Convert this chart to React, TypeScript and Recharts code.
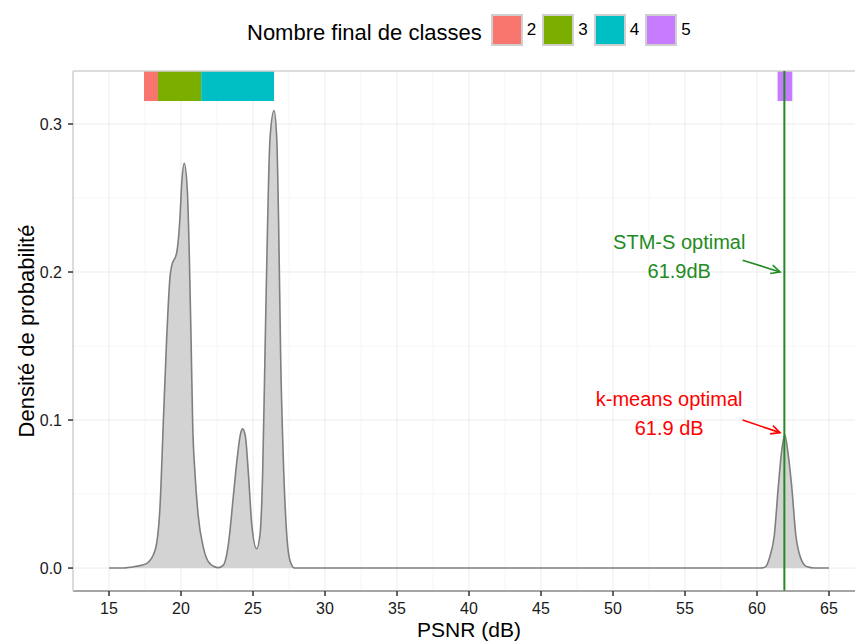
import React from 'react';
import {
  ComposedChart,
  Area,
  XAxis,
  YAxis,
  CartesianGrid,
  ReferenceArea,
  ReferenceLine,
  ReferenceDot,
  Label
} from 'recharts';

const FONT = '"Liberation Sans", Arial, Helvetica, sans-serif';

// PSNR (dB) -> estimated density
const psnr = [
  15, 16, 16.8, 17.6, 18.2, 18.54, 18.77, 19.0, 19.24, 19.35, 19.7, 19.93, 20.05, 20.23,
  20.44, 20.58, 20.7, 20.81, 20.97, 21.2, 21.55, 22.01, 22.6, 22.94, 23.29, 23.63, 23.91,
  24.14, 24.28, 24.47, 24.68, 24.91, 25.25, 25.49, 25.67, 25.83, 25.99, 26.18, 26.46,
  26.65, 26.78, 26.92, 27.1, 27.34, 27.57, 27.9, 28.5, 35, 45, 55, 60.3, 60.6, 60.9,
  61.2, 61.48, 61.7, 61.93, 62.15, 62.41, 62.7, 62.99, 63.45, 64, 65
];
const density = [
  0, 0, 0.001, 0.003, 0.012, 0.041, 0.098, 0.154, 0.197, 0.204, 0.213, 0.237, 0.26, 0.2734,
  0.255, 0.21, 0.154, 0.098, 0.064, 0.035, 0.014, 0.003, 0.0003, 0.002, 0.016, 0.048, 0.075,
  0.091, 0.094, 0.089, 0.064, 0.03, 0.013, 0.023, 0.064, 0.143, 0.222, 0.29, 0.309,
  0.29, 0.233, 0.143, 0.075, 0.023, 0.005, 0, 0, 0, 0, 0, 0, 0.001, 0.008,
  0.022, 0.055, 0.078, 0.09, 0.078, 0.055, 0.022, 0.008, 0.001, 0, 0
];

const xTicks = [15, 20, 25, 30, 35, 40, 45, 50, 55, 60, 65];
const xMinor = [12.5, 17.5, 22.5, 27.5, 32.5, 37.5, 42.5, 47.5, 52.5, 57.5, 62.5, 67.5];
const yTicks = [0, 0.1, 0.2, 0.3];
const yMinor = [0.05, 0.15, 0.25];

// final number of classes, PSNR span of each
const classLabels = ['2', '3', '4', '5'];
const classColors = ['#F8766D', '#7CAE00', '#00BFC4', '#C77CFF'];
const classFrom = [17.43, 18.4, 21.4, 61.43];
const classTo = [18.4, 21.4, 26.46, 62.45];
const bandBottom = 0.3155;

const optimum = 61.9;
const xDomain = [12.5, 67.5];
const yDomain = [-0.0155, 0.3358];

const notes = [
  { lines: ['STM-S optimal', '61.9dB'], x: 54.6, y: 0.2153, color: '#228B22', from: [59.0, 0.208], to: [61.6, 0.2] },
  { lines: ['k-means optimal', '61.9 dB'], x: 53.9, y: 0.1095, color: '#FF0000', from: [59.0, 0.1], to: [61.6, 0.0915] }
];

const rows = psnr.map((x, i) => ({ x, d: density[i] }));

const arrowShape = (color: string) => (props: any) => {
  const { x1, y1, x2, y2 } = props;
  const a = Math.atan2(y2 - y1, x2 - x1);
  const len = 10;
  const spread = Math.PI / 7;
  const p1 = [x2 - len * Math.cos(a - spread), y2 - len * Math.sin(a - spread)];
  const p2 = [x2 - len * Math.cos(a + spread), y2 - len * Math.sin(a + spread)];
  return (
    <g>
      <line x1={x1} y1={y1} x2={x2} y2={y2} stroke={color} strokeWidth={1.6} />
      <polyline points={`${p1[0]},${p1[1]} ${x2},${y2} ${p2[0]},${p2[1]}`} fill="none" stroke={color} strokeWidth={1.6} />
    </g>
  );
};

const noteShape = (lines: string[], color: string) => (props: any) => (
  <g>
    {lines.map((t, i) => (
      <text key={t} x={props.cx} y={props.cy + i * 29} textAnchor="middle" fill={color} fontSize={20} fontFamily={FONT}>
        {t}
      </text>
    ))}
  </g>
);

const Legend = () => (
  <div style={{ position: 'absolute', left: 247, top: 13.5, height: 32, display: 'flex', alignItems: 'center', fontFamily: FONT, color: '#000' }}>
    <span style={{ fontSize: 22, position: 'relative', top: 3.5, marginRight: 9 }}>Nombre final de classes</span>
    {classLabels.map((c, i) => (
      <React.Fragment key={c}>
        <span style={{ width: 28, height: 28, border: '2px solid #cfcfcf', background: classColors[i], display: 'inline-block' }} />
        <span style={{ fontSize: 17, marginLeft: 4, marginRight: 6 }}>{c}</span>
      </React.Fragment>
    ))}
  </div>
);

const App: React.FC = () => (
  <div style={{ position: 'absolute', left: 0, top: 0, width: 855, height: 642, overflow: 'hidden', background: '#fff' }}>
    <ComposedChart width={875} height={642} data={rows} margin={{ top: 71, right: 10, bottom: 0, left: 0 }}>
      <CartesianGrid stroke="#f5f5f5" strokeWidth={1} verticalValues={xMinor} horizontalValues={yMinor} />
      <CartesianGrid stroke="#ebebeb" strokeWidth={1} verticalValues={xTicks} horizontalValues={yTicks} />
      <XAxis
        type="number"
        dataKey="x"
        domain={xDomain}
        ticks={xTicks}
        allowDataOverflow
        height={51}
        tickSize={5}
        tickMargin={7}
        axisLine={{ stroke: '#888', strokeWidth: 1.5 }}
        tickLine={{ stroke: '#333', strokeWidth: 1.5 }}
        tick={{ fill: '#1a1a1a', fontSize: 16, fontFamily: FONT }}
      >
        <Label
          content={(p: any) => (
            <text x={p.viewBox.x + p.viewBox.width / 2} y={p.viewBox.y + p.viewBox.height - 5} textAnchor="middle" fontSize={21} fill="#000" fontFamily={FONT}>
              PSNR (dB)
            </text>
          )}
        />
      </XAxis>
      <YAxis
        type="number"
        domain={yDomain}
        ticks={yTicks}
        allowDataOverflow
        width={73}
        tickSize={5}
        tickMargin={6}
        tickFormatter={(v: number) => v.toFixed(1)}
        axisLine={{ stroke: '#d0d0d0', strokeWidth: 1.5 }}
        tickLine={{ stroke: '#333', strokeWidth: 1.5 }}
        tick={{ fill: '#1a1a1a', fontSize: 16, fontFamily: FONT }}
      >
        <Label
          content={(p: any) => {
            const cx = 34;
            const cy = p.viewBox.y + p.viewBox.height / 2;
            return (
              <text x={cx} y={cy} transform={`rotate(-90 ${cx} ${cy})`} textAnchor="middle" fontSize={22} fill="#000" fontFamily={FONT}>
                Densité de probabilité
              </text>
            );
          }}
        />
      </YAxis>
      <ReferenceLine y={yDomain[1]} stroke="#d0d0d0" strokeWidth={1.5} />
      <Area
        type="monotone"
        dataKey="d"
        fill="#d3d3d3"
        fillOpacity={1}
        stroke="#7f7f7f"
        strokeWidth={1.6}
        dot={false}
        activeDot={false}
        isAnimationActive={false}
      />
      {classLabels.map((c, i) => (
        <ReferenceArea key={c} x1={classFrom[i]} x2={classTo[i]} y1={bandBottom} y2={yDomain[1]} fill={classColors[i]} fillOpacity={1} stroke="none" />
      ))}
      <ReferenceLine x={optimum} stroke="#228B22" strokeWidth={2} />
      {notes.map(n => (
        <ReferenceLine
          key={'a' + n.lines[0]}
          segment={[{ x: n.from[0], y: n.from[1] }, { x: n.to[0], y: n.to[1] }]}
          shape={arrowShape(n.color)}
          ifOverflow="visible"
        />
      ))}
      {notes.map(n => (
        <ReferenceDot key={'t' + n.lines[0]} x={n.x} y={n.y} r={0} ifOverflow="visible" shape={noteShape(n.lines, n.color)} />
      ))}
    </ComposedChart>
    <Legend />
  </div>
);

export default App;
